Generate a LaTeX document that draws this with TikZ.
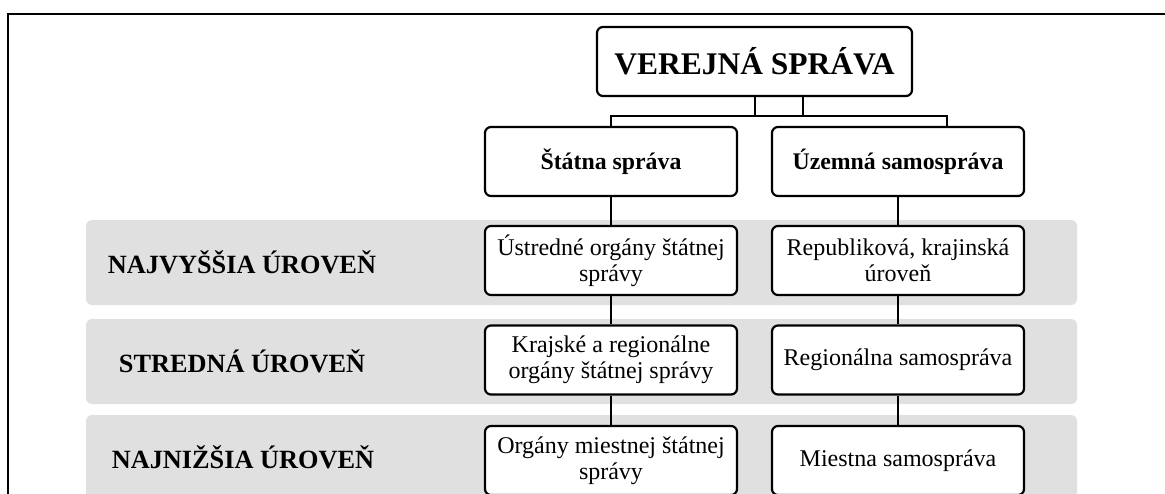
\documentclass[tikz,border=0pt]{standalone}
\usepackage{fontspec}
\setmainfont{Liberation Serif}
\definecolor{bandgray}{RGB}{224,224,224}
\tikzset{
  box/.style={draw=black, line width=2.2pt, rounded corners=6pt, fill=white,
    minimum width=252pt, minimum height=69pt, align=center, inner sep=2pt,
    font=\fontsize{24}{26}\selectfont},
  headbox/.style={box, font=\fontsize{23.8}{26}\selectfont\bfseries},
  titlebox/.style={box, minimum width=315pt, font=\fontsize{31.5}{36}\selectfont\bfseries},
  band/.style={fill=bandgray, draw=none, rounded corners=6pt},
  levellabel/.style={font=\fontsize{26.3}{30}\selectfont\bfseries, inner sep=0pt},
  conn/.style={line width=2.2pt}
}
\begin{document}
\begin{tikzpicture}[x=1pt,y=-1pt]
\useasboundingbox (0,0) rectangle (1165,493);
% frame
\draw[line width=1.3pt] (8,495) -- (8,14) -- (1167,14);
% bands
\fill[band] (86,220) rectangle (1077,305);
\fill[band] (86,319) rectangle (1077,404);
\fill[band] (86,415) rectangle (1077,510);
% level labels
\node[levellabel] (l1) at (242,262) {NAJVYŠŠIA ÚROVEŇ};
\node[levellabel] (l2) at (242,361) {STREDNÁ ÚROVEŇ};
\node[levellabel] (l3) at (243,457) {NAJNIŽŠIA ÚROVEŇ};
% boxes
\node[titlebox] (title) at (754.5,61.5) {VEREJNÁ SPRÁVA};
\node[headbox] (st) at (611,161.5) {Štátna správa};
\node[headbox] (uz) at (898,161.5) {Územná samospráva};
\node[box] (st1) at (611,260.5) {Ústredné orgány štátnej\\správy};
\node[box] (st2) at (611,360) {Krajské a regionálne\\orgány štátnej správy};
\node[box] (st3) at (611,460.5) {Orgány miestnej štátnej\\správy};
\node[box] (uz1) at (898,260.5) {Republiková, krajinská\\úroveň};
\node[box] (uz2) at (898,360) {Regionálna samospráva};
\node[box] (uz3) at (898,460.5) {Miestna samospráva};
% connectors
\coordinate (ja) at (755,116);
\coordinate (jb) at (803,116);
\coordinate (jr) at (947,116);
\draw[conn] (title.south -| ja) -- (ja);
\draw[conn] (title.south -| jb) -- (jb);
\draw[conn] (st.north) |- (jr) -- (jr |- uz.north);
\draw[conn] (st.south) -- (st1.north);
\draw[conn] (st1.south) -- (st2.north);
\draw[conn] (st2.south) -- (st3.north);
\draw[conn] (uz.south) -- (uz1.north);
\draw[conn] (uz1.south) -- (uz2.north);
\draw[conn] (uz2.south) -- (uz3.north);
\end{tikzpicture}
\end{document}
